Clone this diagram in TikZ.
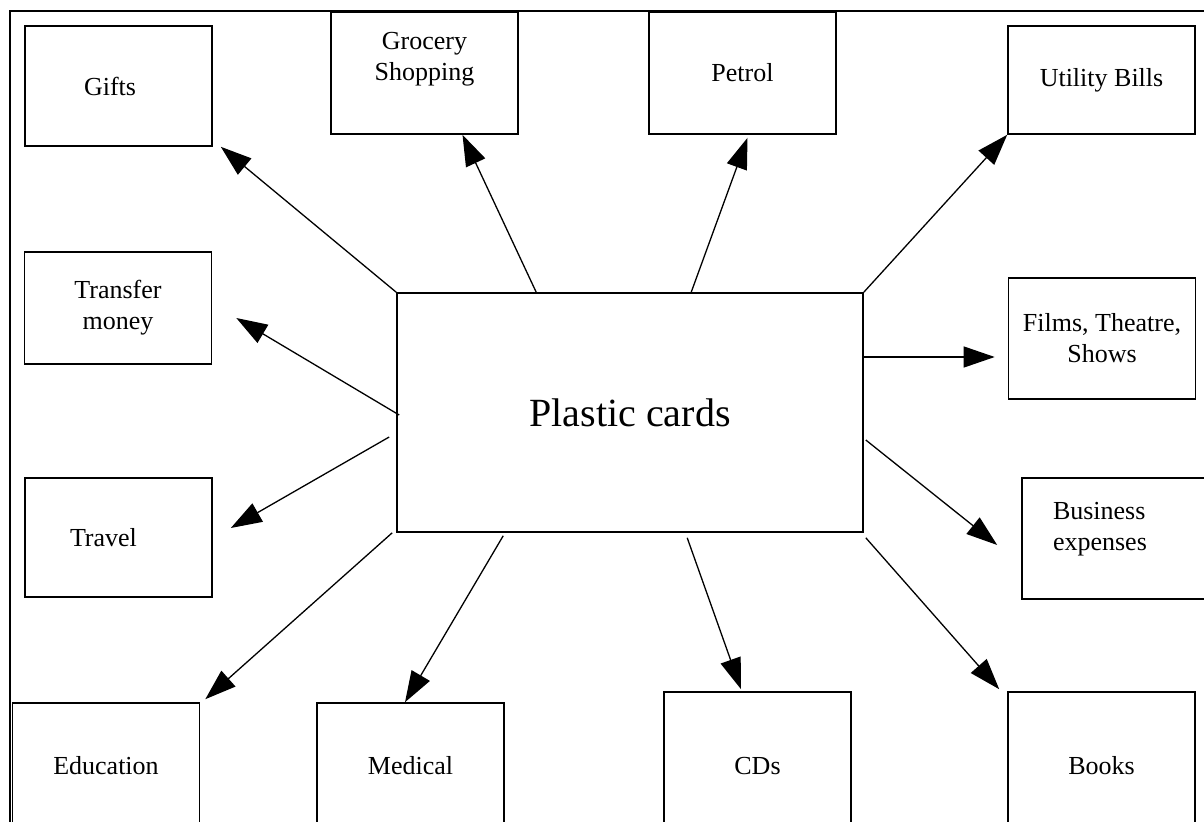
\documentclass[tikz,border=0pt]{standalone}
\usepackage{fontspec}
\setmainfont{Liberation Serif}
\usetikzlibrary{arrows.meta, positioning, calc}

\tikzset{
  usebox/.style={draw, line width=0.8pt, minimum width=93.5pt, inner sep=2pt,
    align=center, font=\fontsize{13pt}{15.6pt}\selectfont},
  cardbox/.style={draw, line width=0.8pt, minimum width=233pt, minimum height=119.5pt,
    font=\fontsize{20pt}{24pt}\selectfont},
  usearrow/.style={-{Triangle[length=15.5pt, width=10.5pt]}, line width=0.65pt},
}

\begin{document}
\begin{tikzpicture}[x=0.5pt, y=0.5pt]
    \useasboundingbox (0,0) rectangle (1204,821);
    \clip (0,0) rectangle (1204,821);

    % Outer frame
    \draw[line width=1.2pt] (10,-30) rectangle (1240,810);

    % Centre
    \node[cardbox] (plastic) at (630,408.5) {Plastic cards};

    % Top row
    \node[usebox, minimum height=60pt, text width=34.5pt, align=left] (gifts) at (118.5,735) {Gifts};
    \node[usebox, minimum height=61pt, text height=24pt, text depth=16pt] (grocery) at (424.5,748) {Grocery\\Shopping};
    \node[usebox, minimum height=61pt] (petrol) at (742.5,748) {Petrol};
    \node[usebox, minimum height=54pt] (utility) at (1101.5,741) {Utility Bills};

    % Left and right
    \node[usebox, minimum height=56pt] (transfer) at (118,513) {Transfer\\money};
    \node[usebox, minimum height=59.5pt, text width=48.5pt, align=left] (travel) at (118.5,283.5) {Travel};
    \node[usebox, minimum height=60.5pt] (films) at (1102,482.5) {Films, Theatre,\\Shows};
    \node[usebox, minimum height=60.5pt, text width=62.5pt, align=left, text height=4pt, text depth=23pt] (business) at (1115.5,282.5) {Business\\expenses};

    % Bottom row
    \node[usebox, minimum height=63pt] (education) at (106,55) {Education};
    \node[usebox, minimum height=63pt] (medical) at (410.5,55) {Medical};
    \node[usebox, minimum height=74pt] (cds) at (757.5,55) {CDs};
    \node[usebox, minimum height=74pt] (books) at (1101.5,55) {Books};

    % Uses
    \draw[usearrow] (plastic.north west) -- ($(gifts.south east)+(8,0)$);
    \draw[usearrow] ($(plastic.north west)+(140,0)$) -- ($(grocery.south)+(38,0)$);
    \draw[usearrow] ($(plastic.north west)+(295,0)$) -- ($(petrol.south)+(5,-3)$);
    \draw[usearrow] (plastic.north east) -- (utility.south west);
    \draw[usearrow] ($(plastic.west)+(3,-2.5)$) -- ($(transfer.east)+(24,-10)$);
    \draw[usearrow] ($(plastic.west)+(-7,-24.5)$) -- ($(travel.east)+(18,9.5)$);
    \draw[usearrow] ($(plastic.east)+(0,55.5)$) -- ($(films.west)+(-13,-18.5)$);
    \draw[usearrow] ($(plastic.east)+(2,-27.5)$) -- ($(business.west)+(-24,-6.5)$);
    \draw[usearrow] ($(plastic.south west)+(-4,0)$) -- ($(education.north east)+(5,3)$);
    \draw[usearrow] ($(plastic.south west)+(107,-3)$) -- ($(medical.north)+(-5.5,0)$);
    \draw[usearrow] ($(plastic.south west)+(291,-5)$) -- ($(cds.north)+(-16.5,2)$);
    \draw[usearrow] ($(plastic.south east)+(2,-5)$) -- ($(books.north west)+(-8,2)$);
\end{tikzpicture}
\end{document}
